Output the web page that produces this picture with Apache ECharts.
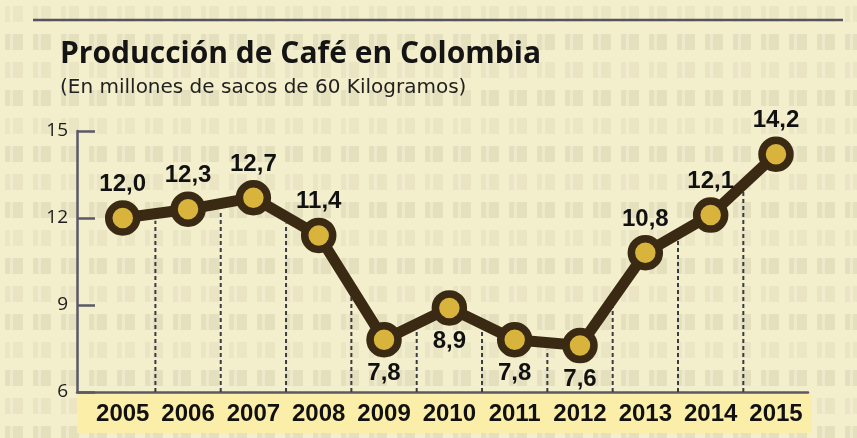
<!DOCTYPE html>
<html>
<head lang="es">
    <meta charset="UTF-8">
    <title>Producción de Café en Colombia</title>
    <script src="https://cdn.jsdelivr.net/npm/echarts@6/dist/echarts.min.js"></script>
    <style>
        html, body { margin: 0; padding: 0; }
        #chart { width: 857px; height: 438px; background-color: #f1ebc6; }
    </style>
</head>
<body>
<div id="chart"></div>
<script>
    // datos
    var years = [2005, 2006, 2007, 2008, 2009, 2010, 2011, 2012, 2013, 2014, 2015];
    var produccion = [12.0, 12.3, 12.7, 11.4, 7.8, 8.9, 7.8, 7.6, 10.8, 12.1, 14.2];
    var labelPos = ['top', 'top', 'top', 'top', 'bottom', 'bottom', 'bottom', 'bottom', 'top', 'top', 'top'];
    var yTicks = [6, 9, 12, 15];

    // textura de costal (solo decoracion)
    var tex = document.createElement('canvas');
    tex.width = 112; tex.height = 112;
    var ctx = tex.getContext('2d');
    ctx.fillStyle = '#f3eecb';
    ctx.fillRect(0, 0, 112, 112);
    for (var i = 0; i < 4; i++) {
        for (var j = 0; j < 4; j++) {
            var a = 0.07 + 0.07 * Math.abs(Math.sin(i * 3.1 + j * 1.7));
            ctx.fillStyle = 'rgba(140,132,105,' + a.toFixed(3) + ')';
            ctx.fillRect(i * 28 + 5, j * 28 + 6, 18, 16);
            ctx.fillStyle = 'rgba(255,252,225,0.35)';
            ctx.fillRect(i * 28 + 10, j * 28 + 6, 3, 16);
        }
    }
    document.getElementById('chart').style.backgroundImage = 'url(' + tex.toDataURL() + ')';

    var myChart = echarts.init(document.getElementById('chart'));

    var lineData = years.map(function (y, i) {
        return { value: [y, produccion[i]], label: { position: labelPos[i] } };
    });
    var bordes = [];
    for (var k = 0; k < years.length - 1; k++) {
        bordes.push([years[k] + 0.5, (produccion[k] + produccion[k + 1]) / 2]);
    }

    var option = {
        backgroundColor: 'transparent',
        title: {
            text: 'Producción de Café en Colombia',
            subtext: '(En millones de sacos de 60 Kilogramos)',
            left: 55,
            top: 34,
            itemGap: 9,
            textStyle: { fontFamily: 'Open Sans', fontWeight: 'bold', fontSize: 30, color: '#141414' },
            subtextStyle: { fontFamily: 'DejaVu Sans', fontSize: 20, color: '#222' }
        },
        graphic: [
            { type: 'line', shape: { x1: 33, y1: 20, x2: 843, y2: 20 }, style: { stroke: '#55545c', lineWidth: 2.5 } },
            { type: 'rect', shape: { x: 77, y: 393, width: 735, height: 40 }, style: { fill: '#faeea8' }, z: -10 }
        ],
        grid: { left: 77, right: 49, top: 131, bottom: 46 },
        xAxis: {
            type: 'value',
            min: 2004.3,
            max: 2015.49,
            axisLine: { lineStyle: { color: '#5b5968', width: 2.5 } },
            axisTick: {
                show: true, inside: true, length: 7,
                customValues: [2015.5],
                lineStyle: { color: '#5b5968', width: 2 }
            },
            axisLabel: {
                customValues: years,
                formatter: function (v) { return String(v); },
                margin: 10,
                fontFamily: 'Liberation Sans',
                fontWeight: 'bold',
                fontSize: 24,
                color: '#111'
            },
            splitLine: { show: false }
        },
        yAxis: {
            type: 'value',
            min: 6,
            max: 15,
            interval: 3,
            axisLine: { show: true, lineStyle: { color: '#5b5968', width: 2.5 } },
            axisTick: { show: true, inside: true, length: 18, lineStyle: { color: '#5b5968', width: 2.5 } },
            axisLabel: { margin: 9, fontFamily: 'Open Sans', fontSize: 19, color: '#1c1c1c' },
            splitLine: { show: false }
        },
        series: [
            {
                type: 'custom',
                data: bordes,
                z: 1,
                silent: true,
                renderItem: function (params, api) {
                    var p0 = api.coord([api.value(0), 6]);
                    var p1 = api.coord([api.value(0), api.value(1)]);
                    return {
                        type: 'line',
                        shape: { x1: p0[0], y1: p0[1], x2: p1[0], y2: p1[1] + 7 },
                        style: { stroke: '#3c3a45', lineWidth: 2, lineDash: [4, 3] }
                    };
                }
            },
            {
                type: 'line',
                data: lineData,
                z: 3,
                symbol: 'circle',
                symbolSize: 28,
                lineStyle: { color: '#3a2a13', width: 11 },
                itemStyle: { color: '#d8b43c', borderColor: '#3a2a13', borderWidth: 7.5 },
                label: {
                    show: true,
                    distance: 4,
                    fontFamily: 'Liberation Sans',
                    fontWeight: 'bold',
                    fontSize: 24,
                    color: '#111',
                    formatter: function (p) { return p.value[1].toFixed(1).replace('.', ','); }
                },
                animation: false
            }
        ],
        animation: false
    };
    myChart.setOption(option, true);
</script>
</body>
</html>
